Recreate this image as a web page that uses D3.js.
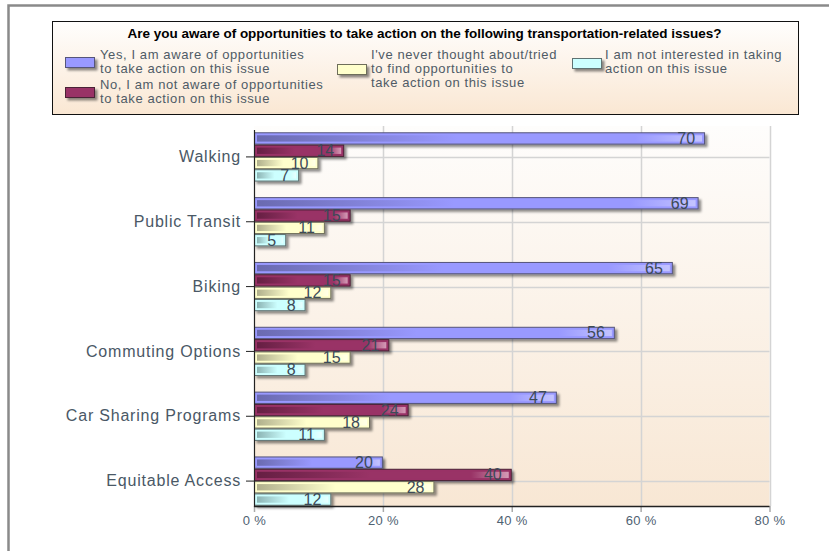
<!DOCTYPE html>
<html>
<head>
<meta charset="utf-8">
<script src="https://cdn.jsdelivr.net/npm/d3@7"></script>
<style>
  html, body { margin: 0; padding: 0; background: #fff; }
  svg { display: block; }
  text { font-family: "Liberation Sans", Arial, sans-serif; }
</style>
</head>
<body>
<svg id="chart" width="829" height="551"></svg>
<script>
// ---- Data ----
const title = "Are you aware of opportunities to take action on the following transportation-related issues?";
const categories = ["Walking", "Public Transit", "Biking", "Commuting Options", "Car Sharing Programs", "Equitable Access"];
const seriesNames = [
  ["Yes, I am aware of opportunities", "to take action on this issue"],
  ["No, I am not aware of opportunities", "to take action on this issue"],
  ["I've never thought about/tried", "to find opportunities to", "take action on this issue"],
  ["I am not interested in taking", "action on this issue"]
];
const awareYes    = [70, 69, 65, 56, 47, 20];
const awareNo     = [14, 15, 15, 21, 24, 40];
const neverTried  = [10, 11, 12, 15, 18, 28];
const notInterest = [7, 5, 8, 8, 11, 12];
const xTicks = [0, 20, 40, 60, 80];

const seriesValues = [awareYes, awareNo, neverTried, notInterest];
const colors = [
  { main: "#9999ff", dark: "#6a6ab0", light: "#c4c4ff", stroke: "#55557a" },
  { main: "#993366", dark: "#661f43", light: "#d49ab6", stroke: "#4a2236" },
  { main: "#ffffcc", dark: "#b0b08c", light: "#ffffe8", stroke: "#6e6e5a" },
  { main: "#ccffff", dark: "#8cb4b4", light: "#e8ffff", stroke: "#5e7272" }
];

const svg = d3.select("#chart");
const defs = svg.append("defs");

// gradients
colors.forEach((c, i) => {
  const g = defs.append("linearGradient").attr("id", "bg" + i)
    .attr("x1", "0").attr("x2", "1").attr("y1", "0").attr("y2", "0");
  g.append("stop").attr("offset", "0").attr("stop-color", c.dark);
  g.append("stop").attr("offset", "0.45").attr("stop-color", c.main);
  g.append("stop").attr("offset", "0.85").attr("stop-color", c.main);
  g.append("stop").attr("offset", "1").attr("stop-color", c.light);
});
const pg = defs.append("linearGradient").attr("id", "plotBg").attr("x1", 0).attr("x2", 0).attr("y1", 0).attr("y2", 1);
pg.append("stop").attr("offset", 0).attr("stop-color", "#fefdfc");
pg.append("stop").attr("offset", 1).attr("stop-color", "#f8e7d4");
const lg = defs.append("linearGradient").attr("id", "legBg").attr("x1", 0).attr("x2", 0).attr("y1", 0).attr("y2", 1);
lg.append("stop").attr("offset", 0).attr("stop-color", "#fffefd");
lg.append("stop").attr("offset", 1).attr("stop-color", "#fae7d3");

const sh = defs.append("filter").attr("id", "shadow").attr("x", "-10%").attr("y", "-30%").attr("width", "130%").attr("height", "180%");
sh.append("feDropShadow").attr("dx", 2.5).attr("dy", 2.5).attr("stdDeviation", 1.2)
  .attr("flood-color", "#000").attr("flood-opacity", 0.45);

// outer frame (top and left visible)
svg.append("path").attr("d", "M8.5,551 L8.5,5.5 L829,5.5")
  .attr("fill", "none").attr("stroke", "#8a8a8a").attr("stroke-width", 2.5);

// ---- Legend ----
svg.append("rect").attr("x", 52.5).attr("y", 21.5).attr("width", 746).attr("height", 93)
  .attr("fill", "url(#legBg)").attr("stroke", "#111").attr("stroke-width", 1);
svg.append("text").attr("x", 424.5).attr("y", 38).attr("text-anchor", "middle")
  .attr("font-size", 12.5).attr("font-weight", "bold").attr("fill", "#000")
  .attr("textLength", 594).attr("lengthAdjust", "spacingAndGlyphs")
  .text(title);

const legendPos = [
  { sx: 65, sy: 57, tx: 100, ty: 59 },
  { sx: 65, sy: 87, tx: 100, ty: 89 },
  { sx: 337, sy: 64, tx: 371, ty: 59 },
  { sx: 572, sy: 58, tx: 605, ty: 59 }
];
seriesNames.forEach((lines, i) => {
  const p = legendPos[i];
  const c = colors[i];
  svg.append("rect").attr("x", p.sx + 0.5).attr("y", p.sy + 0.5).attr("width", 29).attr("height", 10)
    .attr("fill", c.main).attr("stroke", c.stroke).attr("stroke-width", 1).attr("filter", "url(#shadow)");
  const t = svg.append("text").attr("x", p.tx).attr("y", p.ty).attr("font-size", 13)
    .attr("fill", "#4f5b66").attr("letter-spacing", "0.6");
  lines.forEach((ln, k) => {
    t.append("tspan").attr("x", p.tx).attr("dy", k === 0 ? 0 : 14).text(ln);
  });
});

// ---- Plot ----
const plot = { left: 254, right: 769.5, top: 126, bottom: 506 };
const x = d3.scaleLinear().domain([0, 80]).range([plot.left, plot.right]);
const y = d3.scaleBand().domain(categories).range([124.5, 513.5]).paddingInner(0.24).paddingOuter(0.12);
const ySub = d3.scaleBand().domain(d3.range(4)).range([0, y.bandwidth()]);

svg.append("rect").attr("x", plot.left).attr("y", plot.top)
  .attr("width", plot.right - plot.left).attr("height", plot.bottom - plot.top)
  .attr("fill", "url(#plotBg)");

// vertical gridlines
svg.append("g").selectAll("line").data(xTicks.slice(1)).join("line")
  .attr("x1", d => Math.round(x(d)) + 0.5).attr("x2", d => Math.round(x(d)) + 0.5)
  .attr("y1", plot.top).attr("y2", plot.bottom)
  .attr("stroke", "#d4d4d4").attr("stroke-width", 1.5);
// horizontal gridlines at category centers
svg.append("g").selectAll("line").data(categories).join("line")
  .attr("x1", plot.left).attr("x2", plot.right)
  .attr("y1", d => Math.round(y(d) + y.bandwidth() / 2) + 0.5)
  .attr("y2", d => Math.round(y(d) + y.bandwidth() / 2) + 0.5)
  .attr("stroke", "#d4d4d4").attr("stroke-width", 1.5);

// bars
const groups = svg.append("g").selectAll("g").data(categories).join("g")
  .attr("transform", d => `translate(0,${y(d)})`);
groups.each(function (cat, ci) {
  const g = d3.select(this);
  seriesValues.forEach((vals, si) => {
    const v = vals[ci];
    const c = colors[si];
    const by = ySub(si);
    const bh = ySub.bandwidth();
    const bw = x(v) - x(0);
    g.append("rect").attr("x", x(0) + 0.5).attr("y", by + 0.5)
      .attr("width", bw - 1).attr("height", bh - 1)
      .attr("fill", c.main).attr("stroke", c.stroke).attr("stroke-width", 1)
      .attr("filter", "url(#shadow)");
    g.append("rect").attr("x", x(0) + 3).attr("y", by + 3)
      .attr("width", Math.max(0, bw - 6)).attr("height", bh - 6)
      .attr("fill", `url(#bg${si})`);
    g.append("text").attr("x", x(v) - 10).attr("y", by + bh / 2 + 5.5)
      .attr("text-anchor", "end").attr("font-size", 16).attr("fill", "#3c4a58")
      .text(v);
  });
});

// axes
const yAxisG = svg.append("g").attr("transform", `translate(${plot.left},0)`)
  .call(d3.axisLeft(y).tickSize(8).tickPadding(5));
yAxisG.select(".domain").remove();
yAxisG.selectAll(".tick line").attr("stroke", "#222");
yAxisG.selectAll(".tick text").attr("font-size", 16).attr("fill", "#4a5866")
  .attr("font-family", "Liberation Sans, Arial, sans-serif").attr("letter-spacing", "0.8");
svg.append("line").attr("x1", plot.left + 0.5).attr("x2", plot.left + 0.5)
  .attr("y1", plot.top + 4).attr("y2", plot.bottom + 1).attr("stroke", "#222").attr("stroke-width", 1.2);

const xAxisG = svg.append("g").attr("transform", `translate(0,${plot.bottom})`)
  .call(d3.axisBottom(x).tickValues(xTicks).tickFormat(d => d + " %").tickSize(6).tickPadding(4));
xAxisG.select(".domain").remove();
xAxisG.selectAll(".tick line").attr("stroke", "#aaa").attr("stroke-width", 1.5);
xAxisG.selectAll(".tick text").attr("font-size", 13).attr("fill", "#4f6272")
  .attr("font-family", "Liberation Sans, Arial, sans-serif").attr("letter-spacing", "0.3");
svg.append("line").attr("x1", plot.left).attr("x2", plot.right)
  .attr("y1", plot.bottom + 0.5).attr("y2", plot.bottom + 0.5).attr("stroke", "#222").attr("stroke-width", 1.5);
</script>
</body>
</html>
